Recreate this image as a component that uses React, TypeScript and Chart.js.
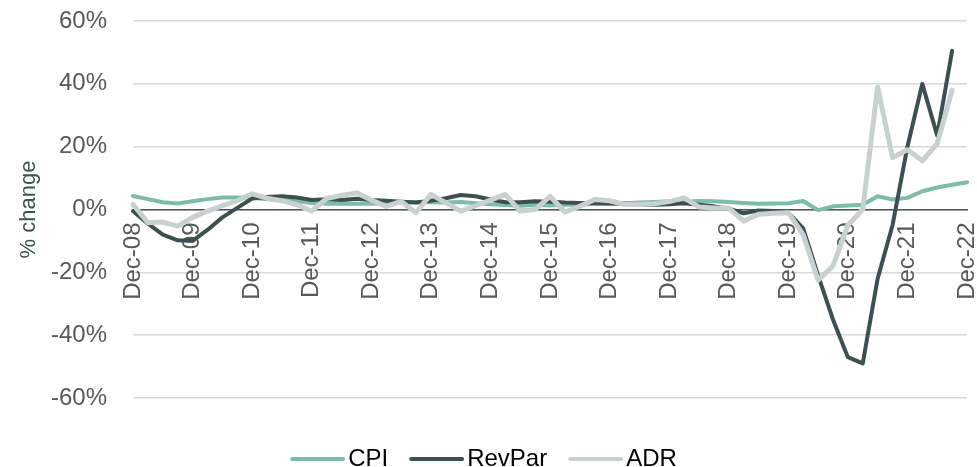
import React, { useEffect, useRef } from "react";
import { Chart, registerables } from "chart.js";

Chart.register(...registerables);

const quarters: string[] = [];
const monthNames = ["Dec", "Mar", "Jun", "Sep"];
for (let y = 8; y <= 22; y++) {
  for (let q = 0; q < 4; q++) {
    const yr = q === 0 ? y : y + 1;
    if (yr > 22 && q > 0) continue;
    quarters.push(`${monthNames[q]}-${String(yr).padStart(2, "0")}`);
  }
}
// quarters: Dec-08 ... Dec-22 (57 entries)
const categories = quarters.slice(0, 57);

const cpi = [
  4.3, 3.3, 2.3, 1.9, 2.6, 3.3, 3.8, 3.8, 3.7, 3.3, 3.0, 2.6, 2.1, 1.8, 1.9, 1.8,
  1.8, 2.0, 2.3, 2.4, 2.3, 2.2, 2.4, 2.0, 1.7, 1.4, 1.2, 1.5, 1.3, 1.6, 1.5, 1.8,
  1.8, 2.0, 2.2, 2.4, 2.6, 2.5, 2.7, 2.6, 2.4, 2.1, 1.8, 1.9, 2.0, 2.7, -0.2, 1.0,
  1.3, 1.5, 4.2, 3.2, 3.7, 5.8, 7.0, 7.9, 8.7,
];

const revPar = [
  -0.5, -4.5, -8, -9.8, -10, -6.5, -2.5, 0.5, 3.5, 4.0, 4.2, 3.8, 3.0, 3.3, 3.0, 3.4,
  3.0, 2.8, 2.5, 2.2, 2.8, 3.6, 4.6, 4.2, 3.2, 2.3, 2.3, 2.6, 2.5, 2.2, 2.1, 2.0,
  1.9, 1.8, 1.6, 1.5, 1.7, 2.0, 1.5, 1.0, 0.3, -1.2, -0.3, -0.5, -1.0, -6, -21, -35,
  -47, -49, -22, -5, 20, 40, 23.5, 50.5, null,
];

const adr = [
  1.6, -4.2, -4.0, -5.3, -2.5, -0.5, 1.2, 2.8, 5.0, 3.6, 2.8, 1.5, -0.5, 3.5, 4.5, 5.3,
  3.0, 1.0, 2.6, -1.0, 4.8, 2.2, -0.5, 1.2, 3.0, 4.8, -0.5, 0, 4.2, -0.8, 1.0, 3.2,
  2.8, 1.6, 1.6, 1.8, 2.5, 3.7, 0.8, 0.5, 0.5, -3.7, -1.5, -1.2, -1.0, -8, -22.5, -18,
  -5, 0, 39, 16.5, 19, 15.5, 21, 38, null,
];

const yTicks = [-60, -40, -20, 0, 20, 40, 60];

const seriesNames = ["CPI", "RevPar", "ADR"];
const seriesColors = ["#7cbca8", "#3c5052", "#c9d0d1"];

const FONT = "'Liberation Sans', Arial, sans-serif";

function legendLine(color: string): HTMLCanvasElement {
  const c = document.createElement("canvas");
  c.width = 64;
  c.height = 8;
  const ctx = c.getContext("2d")!;
  ctx.strokeStyle = color;
  ctx.lineWidth = 4;
  ctx.lineCap = "round";
  ctx.beginPath();
  ctx.moveTo(11, 4);
  ctx.lineTo(62, 4);
  ctx.stroke();
  return c;
}

const legendShift = {
  id: "legendShift",
  afterLayout(chart: any) {
    const lg = chart.legend;
    if (lg) {
      lg.top += 28;
      lg.bottom += 28;
    }
  },
};

export default function App() {
  const ref = useRef<HTMLCanvasElement | null>(null);

  useEffect(() => {
    document.body.style.margin = "0";
    if (!ref.current) return;
    const images = seriesColors.map(legendLine);
    const chart = new Chart(ref.current, {
      type: "line",
      data: {
        labels: categories,
        datasets: [
          { label: seriesNames[0], data: cpi, borderColor: seriesColors[0], backgroundColor: seriesColors[0], borderWidth: 4, order: 3 },
          { label: seriesNames[1], data: revPar, borderColor: seriesColors[1], backgroundColor: seriesColors[1], borderWidth: 4, order: 2 },
          { label: seriesNames[2], data: adr, borderColor: seriesColors[2], backgroundColor: seriesColors[2], borderWidth: 5, order: 1 },
        ],
      },
      options: {
        responsive: false,
        animation: false,
        events: [],
        elements: {
          point: { radius: 0, hoverRadius: 0 },
          line: { tension: 0, borderJoinStyle: "round", borderCapStyle: "round" },
        },
        layout: { padding: { top: 21, right: 10, bottom: 14, left: 0 } },
        font: { family: FONT },
        scales: {
          x: {
            type: "category",
            position: { y: 0 } as any,
            offset: false,
            grid: { display: false, drawTicks: false },
            border: { display: true, color: "#4a5656", width: 1.5 },
            ticks: {
              autoSkip: false,
              maxRotation: 90,
              minRotation: 90,
              padding: 13,
              color: "#595959",
              font: { family: FONT, size: 24 },
              callback: (_v: any, i: number) => (i % 4 === 0 ? categories[i] : null),
            },
            afterFit: (s: any) => {
              s.paddingLeft = 0;
              s.paddingRight = 0;
              s.paddingTop = 0;
              s.paddingBottom = 0;
            },
          },
          y: {
            min: yTicks[0],
            max: yTicks[yTicks.length - 1],
            afterBuildTicks: (s: any) => {
              s.ticks = yTicks.map((v) => ({ value: v }));
            },
            grid: { color: "#d6dada", lineWidth: 1.5, drawTicks: false },
            border: { display: false },
            ticks: {
              padding: 26,
              color: "#595959",
              font: { family: FONT, size: 24 },
              callback: (v: any) => `${v}%`,
            },
            title: {
              display: true,
              text: "% change",
              color: "#3e5252",
              font: { family: FONT, size: 22 },
              padding: { top: 16, bottom: 0 },
            },
            afterFit: (s: any) => {
              s.width = 133;
              s.paddingTop = 0;
              s.paddingBottom = 0;
            },
          },
        },
        plugins: {
          tooltip: { enabled: false },
          legend: {
            position: "bottom",
            labels: {
              usePointStyle: true,
              pointStyleWidth: 46,
              boxHeight: 8,
              padding: 21,
              color: "#595959",
              font: { family: FONT, size: 24 },
              generateLabels: () =>
                seriesNames.map((n, i) => ({
                  text: n,
                  fillStyle: seriesColors[i],
                  strokeStyle: seriesColors[i],
                  lineWidth: 0,
                  pointStyle: images[i] as any,
                  hidden: false,
                  datasetIndex: i,
                })),
            },
          },
        },
      },
      plugins: [legendShift],
    });
    return () => chart.destroy();
  }, []);

  return (
    <div style={{ width: 977, height: 467 }}>
      <canvas ref={ref} width={977} height={467} style={{ display: "block" }} />
    </div>
  );
}
